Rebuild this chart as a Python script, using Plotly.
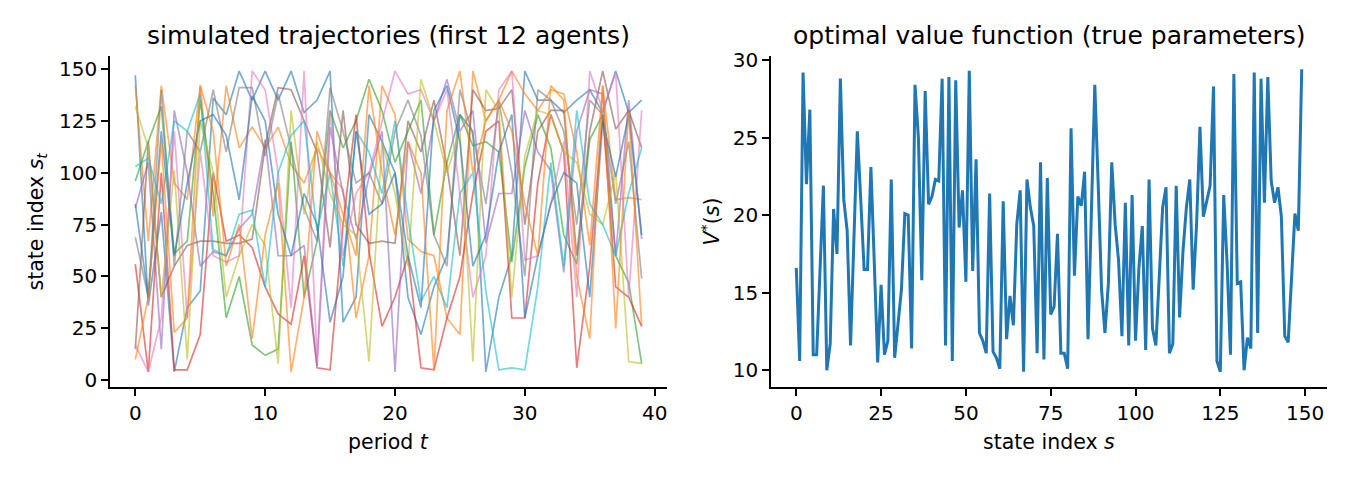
import plotly.graph_objects as go

# ---------------- data ----------------
periods = list(range(40))
states = list(range(150))

traj_0 = [147, 36, 81, 4, 35, 43, 136, 128, 149, 135, 149, 135, 149, 129, 135, 149, 28, 40, 128, 115,
          100, 40, 22, 45, 60, 128, 120, 4, 40, 60, 149, 135, 135, 129, 135, 140, 129, 149, 129, 135]
traj_1 = [142, 67, 142, 95, 87, 142, 79, 142, 112, 122, 112, 122, 104, 95, 112, 100, 92, 30, 60, 142,
          128, 68, 62, 60, 30, 22, 149, 125, 135, 149, 138, 130, 140, 138, 110, 65, 142, 87, 88, 87]
traj_2 = [96, 115, 132, 61, 67, 135, 90, 30, 50, 17, 12, 15, 115, 40, 67, 130, 112, 125, 145, 130,
          105, 120, 135, 70, 105, 128, 113, 115, 110, 57, 103, 128, 112, 70, 56, 116, 128, 60, 47, 8]
traj_3 = [56, 4, 100, 5, 5, 22, 100, 67, 70, 64, 45, 32, 27, 60, 6, 5, 75, 128, 62, 26,
          40, 60, 6, 5, 30, 50, 90, 120, 125, 30, 30, 95, 128, 110, 6, 55, 128, 45, 40, 26]
traj_4 = [83, 105, 15, 130, 100, 55, 62, 60, 73, 80, 116, 60, 60, 65, 7, 122, 90, 68, 98, 120,
          4, 115, 90, 125, 145, 120, 130, 66, 90, 90, 130, 110, 101, 52, 120, 140, 138, 60, 135, 68]
traj_5 = [15, 115, 40, 55, 65, 67, 67, 66, 66, 68, 113, 141, 140, 125, 110, 64, 130, 75, 66, 67,
          66, 125, 110, 135, 103, 60, 140, 130, 131, 140, 75, 120, 130, 130, 60, 120, 149, 121, 130, 112]
traj_6 = [17, 4, 30, 120, 30, 110, 60, 57, 60, 149, 140, 100, 35, 149, 10, 130, 60, 90, 100, 125,
          149, 138, 140, 125, 140, 90, 40, 60, 140, 149, 58, 60, 85, 115, 40, 149, 130, 148, 40, 130]
traj_7 = [69, 40, 140, 55, 120, 110, 140, 110, 141, 141, 108, 138, 112, 83, 67, 141, 120, 95, 100, 85,
          120, 135, 118, 70, 55, 140, 118, 85, 134, 100, 50, 140, 135, 120, 75, 135, 128, 85, 115, 49]
traj_8 = [132, 112, 40, 101, 10, 125, 100, 40, 60, 75, 65, 8, 130, 80, 115, 90, 75, 70, 9, 115,
          90, 55, 145, 125, 100, 120, 9, 140, 130, 40, 108, 130, 128, 110, 105, 80, 75, 100, 9, 8]
traj_9 = [103, 107, 85, 125, 120, 138, 63, 60, 80, 82, 45, 100, 118, 125, 72, 100, 55, 120, 110, 90,
          125, 78, 38, 50, 35, 90, 100, 43, 5, 6, 5, 45, 105, 55, 130, 85, 75, 60, 90, 112]
traj_10 = [85, 40, 120, 60, 95, 125, 128, 118, 87, 137, 125, 80, 60, 90, 75, 28, 50, 120, 80, 85,
           100, 60, 35, 130, 142, 115, 55, 70, 110, 128, 30, 60, 85, 100, 95, 40, 125, 98, 128, 70]
traj_11 = [10, 40, 115, 23, 30, 142, 120, 55, 75, 20, 70, 95, 4, 40, 120, 100, 80, 60, 142, 100,
           70, 115, 100, 5, 130, 149, 100, 125, 135, 120, 85, 60, 142, 135, 50, 20, 142, 25, 130, 26]

trajectories = [traj_0, traj_1, traj_2, traj_3, traj_4, traj_5,
                traj_6, traj_7, traj_8, traj_9, traj_10, traj_11]

value_fn = [16.6, 10.6, 29.2, 22.0, 26.8, 11.0, 11.0, 16.4, 21.9, 10.0,
            11.7, 20.4, 17.5, 28.8, 21.0, 19.0, 11.6, 18.5, 25.4, 21.0,
            16.5, 16.5, 23.1, 16.9, 10.5, 15.5, 11.0, 11.9, 22.3, 10.8,
            13.0, 15.2, 20.1, 20.0, 11.4, 28.4, 25.0, 15.8, 28.0, 20.7,
            21.2, 22.3, 22.2, 28.8, 11.6, 28.9, 10.6, 28.7, 19.2, 21.6,
            15.7, 29.3, 16.4, 23.6, 12.4, 11.9, 11.1, 21.4, 11.2, 10.8,
            10.1, 20.9, 12.0, 14.8, 12.9, 19.4, 21.6, 9.9, 22.3, 20.5,
            19.3, 11.1, 23.4, 10.7, 22.4, 13.6, 14.1, 18.8, 11.1, 11.1,
            10.1, 25.6, 16.1, 21.2, 20.6, 22.8, 12.0, 20.2, 28.4, 22.0,
            15.2, 12.4, 15.6, 23.4, 19.4, 17.1, 12.2, 20.8, 11.6, 21.3,
            11.9, 16.6, 19.3, 11.3, 22.3, 12.7, 11.6, 16.0, 20.5, 21.8,
            11.1, 11.7, 21.9, 13.4, 17.7, 20.5, 22.3, 15.2, 19.4, 25.7,
            19.9, 20.9, 21.9, 28.3, 10.6, 9.9, 21.3, 16.9, 11.0, 29.1,
            15.6, 15.7, 10.0, 12.1, 11.4, 29.2, 12.4, 28.8, 20.8, 28.9,
            22.2, 20.8, 21.8, 19.9, 12.2, 11.8, 16.0, 20.1, 19.0, 29.4]

left_xticks = [0, 10, 20, 30, 40]
left_yticks = [0, 25, 50, 75, 100, 125, 150]
right_xticks = [0, 25, 50, 75, 100, 125, 150]
right_yticks = [10, 15, 20, 25, 30]

tab10 = ["#1f77b4", "#ff7f0e", "#2ca02c", "#d62728", "#9467bd",
         "#8c564b", "#e377c2", "#7f7f7f", "#bcbd22", "#17becf"]

# ---------------- figure ----------------
W, H = 1350, 480
FONT = "DejaVu Sans"
TICK_PX = 20
LABEL_PX = 20.5
TITLE_PX = 25

fig = go.Figure()
for i, tr in enumerate(trajectories):
    fig.add_trace(go.Scatter(
        x=periods, y=tr, mode="lines",
        line=dict(color=tab10[i % 10], width=1.7),
        opacity=0.6, showlegend=False, hoverinfo="skip",
        xaxis="x", yaxis="y"))

fig.add_trace(go.Scatter(
    x=states, y=value_fn, mode="lines",
    line=dict(color="#1f77b4", width=3),
    showlegend=False, xaxis="x2", yaxis="y2"))

# plot areas in pixels
L1, R1 = 110, 667
L2, R2 = 771, 1327
TOP, BOT = 56, 387

def px_x(v):
    return v / W

def px_y(v):
    return (H - v) / H

axis_common = dict(
    showline=True, linecolor="#000000", linewidth=1.7,
    ticks="outside", ticklen=7, tickwidth=1.7, tickcolor="#000000",
    showgrid=False, zeroline=False, mirror=False,
    tickfont=dict(family=FONT, size=TICK_PX, color="#000000"),
    automargin=False,
)

fig.update_layout(
    width=W, height=H,
    margin=dict(l=0, r=0, t=0, b=0),
    paper_bgcolor="white", plot_bgcolor="white",
    font=dict(family=FONT, color="#000000"),
    xaxis=dict(domain=[px_x(L1), px_x(R1)], range=[-1.95, 40.95],
               tickvals=left_xticks, anchor="y", **axis_common),
    yaxis=dict(domain=[px_y(BOT), px_y(TOP)], range=[-3.25, 156.25],
               tickvals=left_yticks, anchor="x", **axis_common),
    xaxis2=dict(domain=[px_x(L2), px_x(R2)], range=[-7.45, 156.45],
                tickvals=right_xticks, anchor="y2", **axis_common),
    yaxis2=dict(domain=[px_y(BOT), px_y(TOP)], range=[8.92, 30.26],
                tickvals=right_yticks, anchor="x2", **axis_common),
)

annotations = [
    dict(text="simulated trajectories (first 12 agents)", x=px_x((L1 + R1) / 2), y=px_y(36),
         font=dict(size=TITLE_PX)),
    dict(text="optimal value function (true parameters)", x=px_x((L2 + R2) / 2), y=px_y(36),
         font=dict(size=TITLE_PX)),
    dict(text="period <i>t</i>", x=px_x((L1 + R1) / 2), y=px_y(442),
         font=dict(size=LABEL_PX)),
    dict(text="state index <i>s</i>", x=px_x((L2 + R2) / 2), y=px_y(442),
         font=dict(size=LABEL_PX)),
    dict(text="state index <i>s</i><sub><i>t</i></sub>", x=px_x(36), y=px_y((TOP + BOT) / 2),
         textangle=-90, font=dict(size=LABEL_PX)),
    dict(text="<i>V</i><sup>*</sup>(<i>s</i>)", x=px_x(711), y=px_y((TOP + BOT) / 2),
         textangle=-90, font=dict(size=LABEL_PX)),
]
for a in annotations:
    a.update(xref="paper", yref="paper", showarrow=False,
             xanchor="center", yanchor="middle")
    a["font"].update(family=FONT, color="#000000")
fig.update_layout(annotations=annotations)

fig.write_html("out.html")
